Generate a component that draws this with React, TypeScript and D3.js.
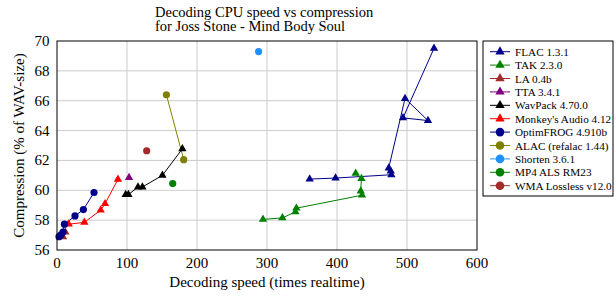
import React from 'react';
import * as d3 from 'd3';

// values: [decoding speed, compression %]
const flac: [number, number][] = [[361, 60.75], [398, 60.82], [477.7, 61.04], [476.7, 61.29], [473.9, 61.49], [497.2, 66.15], [530, 64.67], [494.3, 64.85], [538.6, 69.51]];
const tak: [number, number][] = [[294.3, 58.05], [322, 58.15], [340.6, 58.55], [342, 58.8], [435.7, 59.67], [433.9, 59.95], [434.9, 60.78], [426.7, 61.13]];
const la: [number, number][] = [[12, 57.2], [8.6, 56.88]];
const tta: [number, number][] = [[102.9, 60.85]];
const wavpack: [number, number][] = [[179.1, 62.78], [150.6, 61.0], [122, 60.22], [115.7, 60.22], [102, 59.71], [98.1, 59.71]];
const monkeys: [number, number][] = [[87.1, 60.73], [68.6, 59.1], [62.4, 58.67], [39.1, 57.85], [16.7, 57.73]];
const optimfrog: [number, number][] = [[52.9, 59.85], [37.7, 58.71], [25.7, 58.28], [10.6, 57.73], [8.6, 57.2], [5.7, 57.02], [2.9, 56.89]];
const alac: [number, number][] = [[156.3, 66.4], [181, 62.05]];
const shorten: [number, number][] = [[288, 69.29]];
const mp4als: [number, number][] = [[165.3, 60.45]];
const wma: [number, number][] = [[128.1, 62.65]];

const seriesNames = ['FLAC 1.3.1', 'TAK 2.3.0', 'LA 0.4b', 'TTA 3.4.1', 'WavPack 4.70.0', "Monkey's Audio 4.12", 'OptimFROG 4.910b', 'ALAC (refalac 1.44)', 'Shorten 3.6.1', 'MP4 ALS RM23', 'WMA Lossless v12.0'];
const seriesData = [flac, tak, la, tta, wavpack, monkeys, optimfrog, alac, shorten, mp4als, wma];
const seriesColors = ['#00008b', '#008000', '#a52a2a', '#800080', '#000000', '#ff0000', '#00008b', '#808000', '#1e90ff', '#008000', '#a52a2a'];
const seriesShapes = ['tri', 'tri', 'tri', 'tri', 'tri', 'tri', 'circle', 'circle', 'circle', 'circle', 'circle'];

const xTicks = [0, 100, 200, 300, 400, 500, 600];
const yTicks = [56, 58, 60, 62, 64, 66, 68, 70];

const W = 616, H = 296;
const left = 57, right = 477, top = 41, bottom = 250;
const font = "'Liberation Serif', 'Times New Roman', Tinos, serif";

function Marker({ shape, color, x, y, big }: { shape: string; color: string; x: number; y: number; big?: boolean }) {
  if (shape === 'circle') {
    return <circle cx={x} cy={y} r={big ? 4.3 : 3.6} fill={color} />;
  }
  const p = d3.symbol(d3.symbolTriangle, big ? 38 : 30)();
  return <path d={p || ''} transform={`translate(${x},${y})`} fill={color} />;
}

export default function App() {
  const x = d3.scaleLinear().domain([0, 600]).range([left, right]);
  const y = d3.scaleLinear().domain([56, 70]).range([bottom, top]);
  const line = d3.line<[number, number]>().x(d => x(d[0])).y(d => y(d[1]));

  const legX = 483, legY = 41, legW = 130, legH = 155;

  return (
    <svg width={W} height={H} style={{ position: 'absolute', left: 0, top: 0, background: '#fff', fontFamily: font }}>
      <text x={155} y={17} fontSize={14.5}>Decoding CPU speed vs compression</text>
      <text x={155} y={31} fontSize={14.5}>for Joss Stone - Mind Body Soul</text>

      {xTicks.slice(1, -1).map(t => (
        <line key={'gx' + t} x1={x(t)} x2={x(t)} y1={top} y2={bottom} stroke="#cccccc" strokeWidth={1} />
      ))}
      {yTicks.slice(1, -1).map(t => (
        <line key={'gy' + t} x1={left} x2={right} y1={y(t)} y2={y(t)} stroke="#cccccc" strokeWidth={1} />
      ))}

      {seriesData.map((d, i) => d.length > 1 ? (
        <path key={'l' + i} d={line(d) || ''} fill="none" stroke={seriesColors[i]} strokeWidth={1} />
      ) : null)}
      {seriesData.map((d, i) => d.map((p, j) => (
        <Marker key={'m' + i + '-' + j} shape={seriesShapes[i]} color={seriesColors[i]} x={x(p[0])} y={y(p[1])} />
      )))}

      <rect x={left} y={top} width={right - left} height={bottom - top} fill="none" stroke="#000" strokeWidth={1} />

      {xTicks.map(t => (
        <text key={'tx' + t} x={x(t)} y={268} fontSize={15} textAnchor="middle">{t}</text>
      ))}
      {yTicks.map(t => (
        <text key={'ty' + t} x={49.5} y={y(t) + 5} fontSize={15} textAnchor="end">{t}</text>
      ))}

      <text x={(left + right) / 2} y={287} fontSize={15} textAnchor="middle">Decoding speed (times realtime)</text>
      <text transform={`translate(24,${(top + bottom) / 2}) rotate(-90)`} fontSize={15} textAnchor="middle">Compression (% of WAV-size)</text>

      <rect x={legX} y={legY} width={legW} height={legH} fill="#fff" stroke="#000" strokeWidth={1} />
      {seriesNames.map((n, i) => {
        const ly = 51.7 + i * 13.4;
        return (
          <g key={'lg' + i}>
            <line x1={490} x2={510} y1={ly} y2={ly} stroke={seriesColors[i]} strokeWidth={1} />
            <Marker shape={seriesShapes[i]} color={seriesColors[i]} x={500} y={ly} big />
            <text x={515} y={ly + 4} fontSize={11.2}>{n}</text>
          </g>
        );
      })}
    </svg>
  );
}
